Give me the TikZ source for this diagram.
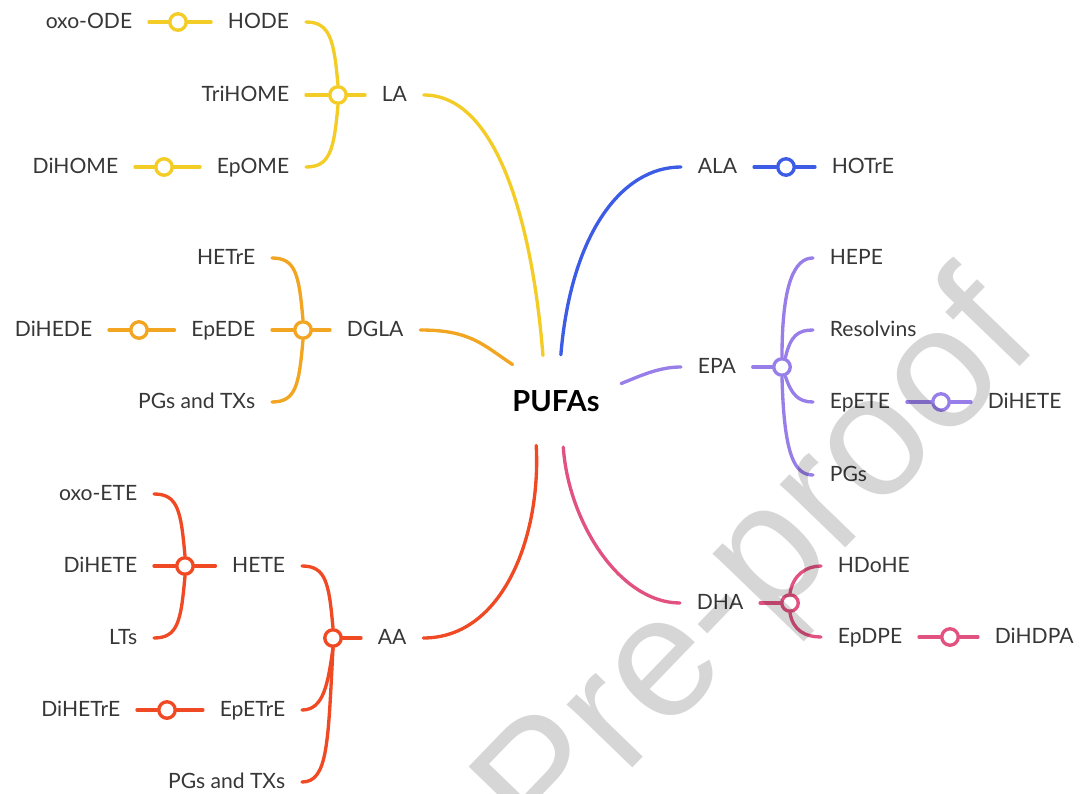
\documentclass[tikz,border=0pt]{standalone}
\usepackage{fontspec}
\setmainfont{Lato}
\newfontfamily\wmfont{Liberation Sans}
\usetikzlibrary{shapes.geometric}
\definecolor{tgray}{RGB}{55,55,55}
\definecolor{cyel}{RGB}{244,204,38}
\definecolor{cora}{RGB}{242,165,32}
\definecolor{cred}{RGB}{240,74,36}
\definecolor{cblu}{RGB}{60,92,230}
\definecolor{cpur}{RGB}{152,126,232}
\definecolor{cpnk}{RGB}{226,82,128}
\begin{document}
\begin{tikzpicture}[x=0.02cm,y=-0.02cm,
  txt/.style={inner xsep=9.6pt,inner ysep=2pt,outer sep=0pt,text=tgray,
    font=\fontsize{12}{14}\selectfont,text height=0.82em,text depth=0.1em},
  jn/.style={circle,draw=#1,line width=1.9pt,fill=white,minimum size=0.33cm,inner sep=0pt},
  br/.style={draw=#1,line width=1.9pt,line cap=round}]
\useasboundingbox (0,0) rectangle (1086,794);
\node[ellipse,minimum width=2.8cm,minimum height=1.84cm,inner sep=0pt,text=black,
  font=\bfseries\fontsize{16.5}{18}\selectfont] (pufa) at (556,401) {PUFAs};
% LA
\node[txt,anchor=west] (la) at (365,95) {LA};
\node[jn=cyel] (jla) at (338,95) {};
\node[txt,anchor=east] (hode) at (306,22) {HODE};
\node[txt,anchor=east] (trihome) at (306,95) {TriHOME};
\node[txt,anchor=east] (epome) at (306,167) {EpOME};
\node[txt,anchor=east] (oxoode) at (149,22) {oxo-ODE};
\node[txt,anchor=east] (dihome) at (135,167) {DiHOME};
\node[jn=cyel] (jhode) at (178,22) {};
\node[jn=cyel] (jepome) at (164,167) {};
\draw[br=cyel] (la.east) .. controls +(75,0) and +(-10,-126) .. (pufa.106);
\draw[br=cyel] (jla.east) -- (la.west) (trihome.east) -- (jla.west);
\draw[br=cyel] (hode.east) .. controls +(24,0) and +(-4,-45) .. (jla.north);
\draw[br=cyel] (epome.east) .. controls +(24,0) and +(-4,45) .. (jla.south);
\draw[br=cyel] (oxoode.east) -- (jhode.west) (jhode.east) -- (hode.west);
\draw[br=cyel] (dihome.east) -- (jepome.west) (jepome.east) -- (epome.west);
% DGLA
\node[txt,anchor=west] (dgla) at (330,330) {DGLA};
\node[jn=cora] (jdgla) at (303,330) {};
\node[txt,anchor=east] (hetre) at (272,258) {HETrE};
\node[txt,anchor=east] (epede) at (272,330) {EpEDE};
\node[txt,anchor=east] (pgtxa) at (272,402) {PGs and TXs};
\node[txt,anchor=east] (dihede) at (109,330) {DiHEDE};
\node[jn=cora] (jepede) at (139,330) {};
\draw[br=cora] (dgla.east) .. controls +(50,0) and +(-30,-20) .. (pufa.140);
\draw[br=cora] (jdgla.east) -- (dgla.west) (epede.east) -- (jdgla.west);
\draw[br=cora] (hetre.east) .. controls +(24,0) and +(-4,-45) .. (jdgla.north);
\draw[br=cora] (pgtxa.east) .. controls +(24,0) and +(-4,45) .. (jdgla.south);
\draw[br=cora] (dihede.east) -- (jepede.west) (jepede.east) -- (epede.west);
% AA
\node[txt,anchor=west] (aa) at (361,638) {AA};
\node[jn=cred] (jaa) at (333,638) {};
\node[txt,anchor=east] (hete) at (302,566) {HETE};
\node[txt,anchor=east] (epetre) at (302,710) {EpETrE};
\node[txt,anchor=east] (pgtxb) at (302,782) {PGs and TXs};
\node[txt,anchor=east] (dihetrea) at (137,710) {DiHETrE};
\node[jn=cred] (jepetre) at (167,710) {};
\node[jn=cred] (jhete) at (185,566) {};
\node[txt,anchor=east] (oxoete) at (154,494) {oxo-ETE};
\node[txt,anchor=east] (diheteb) at (154,566) {DiHETE};
\node[txt,anchor=east] (lts) at (154,638) {LTs};
\draw[br=cred] (aa.east) .. controls +(80,0) and +(5,90) .. (pufa.246);
\draw[br=cred] (jaa.east) -- (aa.west);
\draw[br=cred] (hete.east) .. controls +(24,0) and +(-4,-45) .. (jaa.north);
\draw[br=cred] (epetre.east) .. controls +(22,0) and +(-5,35) .. (jaa.south);
\draw[br=cred] (pgtxb.east) .. controls +(26,0) and +(-5,95) .. (jaa.south);
\draw[br=cred] (dihetrea.east) -- (jepetre.west) (jepetre.east) -- (epetre.west);
\draw[br=cred] (jhete.east) -- (hete.west) (diheteb.east) -- (jhete.west);
\draw[br=cred] (oxoete.east) .. controls +(24,0) and +(-4,-45) .. (jhete.north);
\draw[br=cred] (lts.east) .. controls +(24,0) and +(-4,45) .. (jhete.south);
% ALA
\node[txt,anchor=west] (ala) at (681,167) {ALA};
\node[jn=cblu] (jala) at (786,167) {};
\node[txt,anchor=west] (hotre) at (815,167) {HOTrE};
\draw[br=cblu] (pufa.84) .. controls +(10,-120) and +(-60,0) .. (ala.west);
\draw[br=cblu] (ala.east) -- (jala.west) (jala.east) -- (hotre.west);
% EPA
\node[txt,anchor=west] (epa) at (681,367) {EPA};
\node[jn=cpur] (jepa) at (782,367) {};
\node[txt,anchor=west] (hepe) at (813,258) {HEPE};
\node[txt,anchor=west] (resolv) at (813,330) {Resolvins};
\node[txt,anchor=west] (epete) at (813,402) {EpETE};
\node[txt,anchor=west] (pgs) at (813,475) {PGs};
\node[jn=cpur] (jepete) at (941,402) {};
\node[txt,anchor=west] (dihetec) at (971,402) {DiHETE};
\draw[br=cpur] (pufa.15) .. controls +(20,-8) and +(-22,0) .. (epa.west);
\draw[br=cpur] (epa.east) -- (jepa.west);
\draw[br=cpur] (jepa.north) .. controls +(0,-75) and +(-18,0) .. (hepe.west);
\draw[br=cpur] (jepa.70) .. controls +(5,-22) and +(-15,0) .. (resolv.west);
\draw[br=cpur] (jepa.290) .. controls +(6,18) and +(-15,0) .. (epete.west);
\draw[br=cpur] (jepa.south) .. controls +(2,80) and +(-18,0) .. (pgs.west);
\draw[br=cpur] (epete.east) -- (jepete.west) (jepete.east) -- (dihetec.west);
% DHA
\node[txt,anchor=west] (dha) at (680,603) {DHA};
\node[jn=cpnk] (jdha) at (790,603) {};
\node[txt,anchor=west] (hdohe) at (821,566) {HDoHE};
\node[txt,anchor=west] (epdpe) at (821,637) {EpDPE};
\node[jn=cpnk] (jepdpe) at (950,637) {};
\node[txt,anchor=west] (dihdpa) at (978,637) {DiHDPA};
\draw[br=cpnk] (pufa.279) .. controls +(5,75) and +(-60,0) .. (dha.west);
\draw[br=cpnk] (dha.east) -- (jdha.west);
\draw[br=cpnk] (jdha.north) .. controls +(3,-18) and +(-15,0) .. (hdohe.west);
\draw[br=cpnk] (jdha.south) .. controls +(3,18) and +(-15,0) .. (epdpe.west);
\draw[br=cpnk] (epdpe.east) -- (jepdpe.west) (jepdpe.east) -- (dihdpa.west);
\node[rotate=46,text=black,text opacity=0.16,inner sep=0pt,
  font=\wmfont\fontsize{98}{98}\selectfont] (wm) at (762,570) {Pre-proof};
\end{tikzpicture}
\end{document}
